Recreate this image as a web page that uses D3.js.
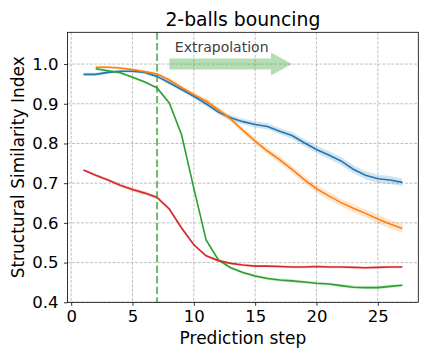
<!DOCTYPE html>
<html>
<head>
<meta charset="utf-8">
<script src="https://cdn.jsdelivr.net/npm/d3@7"></script>
<style>
  body { margin: 0; background: #fff; }
  svg { font-family: "DejaVu Sans", sans-serif; }
</style>
</head>
<body>
<svg id="chart" width="432" height="360"></svg>
<script>
// Data
const title = "2-balls bouncing";
const xLabel = "Prediction step";
const yLabel = "Structural Similarity Index";
const xTicks = [0, 5, 10, 15, 20, 25];
const yTicks = [0.4, 0.5, 0.6, 0.7, 0.8, 0.9, 1.0];
const trainEnd = 7;

const stepsFrom1 = [1, 2, 3, 4, 5, 6, 7, 8, 9, 10, 11, 12, 13, 14, 15, 16, 17, 18, 19, 20, 21, 22, 23, 24, 25, 26, 27];
const stepsFrom2 = [2, 3, 4, 5, 6, 7, 8, 9, 10, 11, 12, 13, 14, 15, 16, 17, 18, 19, 20, 21, 22, 23, 24, 25, 26, 27];

const blueVals = [0.974, 0.974, 0.979, 0.982, 0.982, 0.979, 0.969, 0.953, 0.936, 0.919, 0.900, 0.879, 0.865, 0.855,
  0.848, 0.843, 0.831, 0.820, 0.802, 0.785, 0.771, 0.756, 0.735, 0.720, 0.711, 0.708, 0.702];
const blueSpread = [0.004, 0.004, 0.004, 0.004, 0.004, 0.004, 0.005, 0.005, 0.005, 0.006, 0.006, 0.006, 0.007, 0.007,
  0.008, 0.008, 0.008, 0.009, 0.009, 0.009, 0.010, 0.010, 0.010, 0.010, 0.010, 0.010, 0.010];

const orangeVals = [0.992, 0.992, 0.990, 0.986, 0.981, 0.975, 0.960, 0.941, 0.923, 0.907, 0.885, 0.862, 0.833,
  0.806, 0.781, 0.759, 0.735, 0.709, 0.686, 0.668, 0.651, 0.637, 0.624, 0.610, 0.597, 0.586];
const orangeSpread = [0.003, 0.003, 0.003, 0.003, 0.003, 0.004, 0.005, 0.005, 0.006, 0.006, 0.007, 0.007, 0.008,
  0.008, 0.008, 0.009, 0.009, 0.009, 0.010, 0.010, 0.010, 0.010, 0.010, 0.011, 0.011, 0.011];

const greenVals = [0.988, 0.983, 0.978, 0.967, 0.955, 0.940, 0.902, 0.822, 0.687, 0.557, 0.507, 0.487, 0.475,
  0.466, 0.460, 0.456, 0.454, 0.451, 0.448, 0.446, 0.442, 0.438, 0.437, 0.437, 0.440, 0.443];
const greenSpread = [0.003, 0.003, 0.003, 0.003, 0.003, 0.003, 0.003, 0.004, 0.004, 0.004, 0.004, 0.004, 0.004,
  0.004, 0.004, 0.004, 0.004, 0.004, 0.004, 0.004, 0.004, 0.004, 0.004, 0.004, 0.004, 0.004];

const redVals = [0.733, 0.720, 0.708, 0.695, 0.684, 0.675, 0.664, 0.635, 0.587, 0.545, 0.517, 0.505, 0.498, 0.494,
  0.491, 0.491, 0.490, 0.489, 0.489, 0.490, 0.489, 0.489, 0.488, 0.487, 0.488, 0.489, 0.489];
const redSpread = [0.003, 0.004, 0.004, 0.005, 0.005, 0.005, 0.005, 0.005, 0.004, 0.004, 0.003, 0.003, 0.003, 0.003,
  0.003, 0.003, 0.003, 0.003, 0.003, 0.003, 0.003, 0.003, 0.003, 0.003, 0.003, 0.003, 0.003];

const series = [
  { steps: stepsFrom1, vals: blueVals, spread: blueSpread, color: "#1f77b4" },
  { steps: stepsFrom2, vals: orangeVals, spread: orangeSpread, color: "#ff7f0e" },
  { steps: stepsFrom2, vals: greenVals, spread: greenSpread, color: "#2ca02c" },
  { steps: stepsFrom1, vals: redVals, spread: redSpread, color: "#d62728" }
];

// Extrapolation arrow (data coords)
const arrowFrom = 8, arrowTo = 18, arrowY = 1.0;

// Layout
const margin = { top: 32.3, right: 13.7, bottom: 57.7, left: 67.5 };
const width = 432 - margin.left - margin.right;
const height = 360 - margin.top - margin.bottom;

const svg = d3.select("#chart");
const g = svg.append("g").attr("transform", `translate(${margin.left},${margin.top})`);

const x = d3.scaleLinear().domain([-0.3, 28.3]).range([0, width]);
const y = d3.scaleLinear().domain([0.4, 1.08]).range([height, 0]);

// Grid
g.append("g").selectAll("line").data(xTicks).enter().append("line")
  .attr("x1", d => x(d)).attr("x2", d => x(d)).attr("y1", 0).attr("y2", height)
  .attr("stroke", "#b0b0b0").attr("stroke-width", 0.8).attr("stroke-dasharray", "3,1.5");
g.append("g").selectAll("line").data(yTicks).enter().append("line")
  .attr("x1", 0).attr("x2", width).attr("y1", d => y(d)).attr("y2", d => y(d))
  .attr("stroke", "#b0b0b0").attr("stroke-width", 0.8).attr("stroke-dasharray", "3,1.5");

// Bands + lines
const area = d3.area().x(d => x(d.s)).y0(d => y(d.v - d.e)).y1(d => y(d.v + d.e));
const line = d3.line().x(d => x(d.s)).y(d => y(d.v));

series.forEach(sr => {
  const pts = sr.steps.map((s, i) => ({ s: s, v: sr.vals[i], e: sr.spread[i] }));
  g.append("path").datum(pts).attr("d", area).attr("fill", sr.color).attr("opacity", 0.2);
});
series.forEach(sr => {
  const pts = sr.steps.map((s, i) => ({ s: s, v: sr.vals[i] }));
  g.append("path").datum(pts).attr("d", line)
    .attr("fill", "none").attr("stroke", sr.color).attr("stroke-width", 1.6);
});

// Training horizon marker
g.append("line")
  .attr("x1", x(trainEnd)).attr("x2", x(trainEnd)).attr("y1", 0).attr("y2", height)
  .attr("stroke", "#2ca02c").attr("stroke-opacity", 0.7).attr("stroke-width", 2)
  .attr("stroke-dasharray", "7.4,3.2");

// Arrow
const ax0 = x(arrowFrom), ax1 = x(arrowTo), ay = y(arrowY);
const bodyHalf = 5.5, headHalf = 11.5, headLen = 21;
g.append("polygon")
  .attr("points", [
    [ax0, ay - bodyHalf], [ax1 - headLen, ay - bodyHalf], [ax1 - headLen, ay - headHalf],
    [ax1, ay], [ax1 - headLen, ay + headHalf], [ax1 - headLen, ay + bodyHalf], [ax0, ay + bodyHalf]
  ].map(p => p.join(",")).join(" "))
  .attr("fill", "#2ca02c").attr("opacity", 0.35);

g.append("text")
  .attr("x", x(8.45)).attr("y", y(1.031))
  .style("font-size", "14px").attr("fill", "#404040")
  .text("Extrapolation");

// Axes
const xAxis = g.append("g").attr("transform", `translate(0,${height})`)
  .call(d3.axisBottom(x).tickValues(xTicks).tickSize(3.5).tickPadding(4.5).tickFormat(d3.format("d")));
const yAxis = g.append("g")
  .call(d3.axisLeft(y).tickValues(yTicks).tickSize(3.5).tickPadding(5.5).tickFormat(d3.format(".1f")));
[xAxis, yAxis].forEach(a => {
  a.select(".domain").remove();
  a.selectAll(".tick line").attr("stroke", "#000").attr("stroke-width", 0.8);
  a.selectAll(".tick text").attr("fill", "#000")
    .style("font-family", "DejaVu Sans").style("font-size", "16.5px");
});

// Frame
g.append("rect").attr("width", width).attr("height", height)
  .attr("fill", "none").attr("stroke", "#000").attr("stroke-width", 0.8);

// Labels
svg.append("text")
  .attr("x", margin.left + width / 2).attr("y", 26)
  .attr("text-anchor", "middle").style("font-size", "18.8px")
  .text(title);

svg.append("text")
  .attr("x", margin.left + width / 2).attr("y", 344)
  .attr("text-anchor", "middle").style("font-size", "17px")
  .text(xLabel);

svg.append("text")
  .attr("transform", `translate(24,${margin.top + height / 2}) rotate(-90)`)
  .attr("text-anchor", "middle").style("font-size", "17px")
  .text(yLabel);
</script>
</body>
</html>
